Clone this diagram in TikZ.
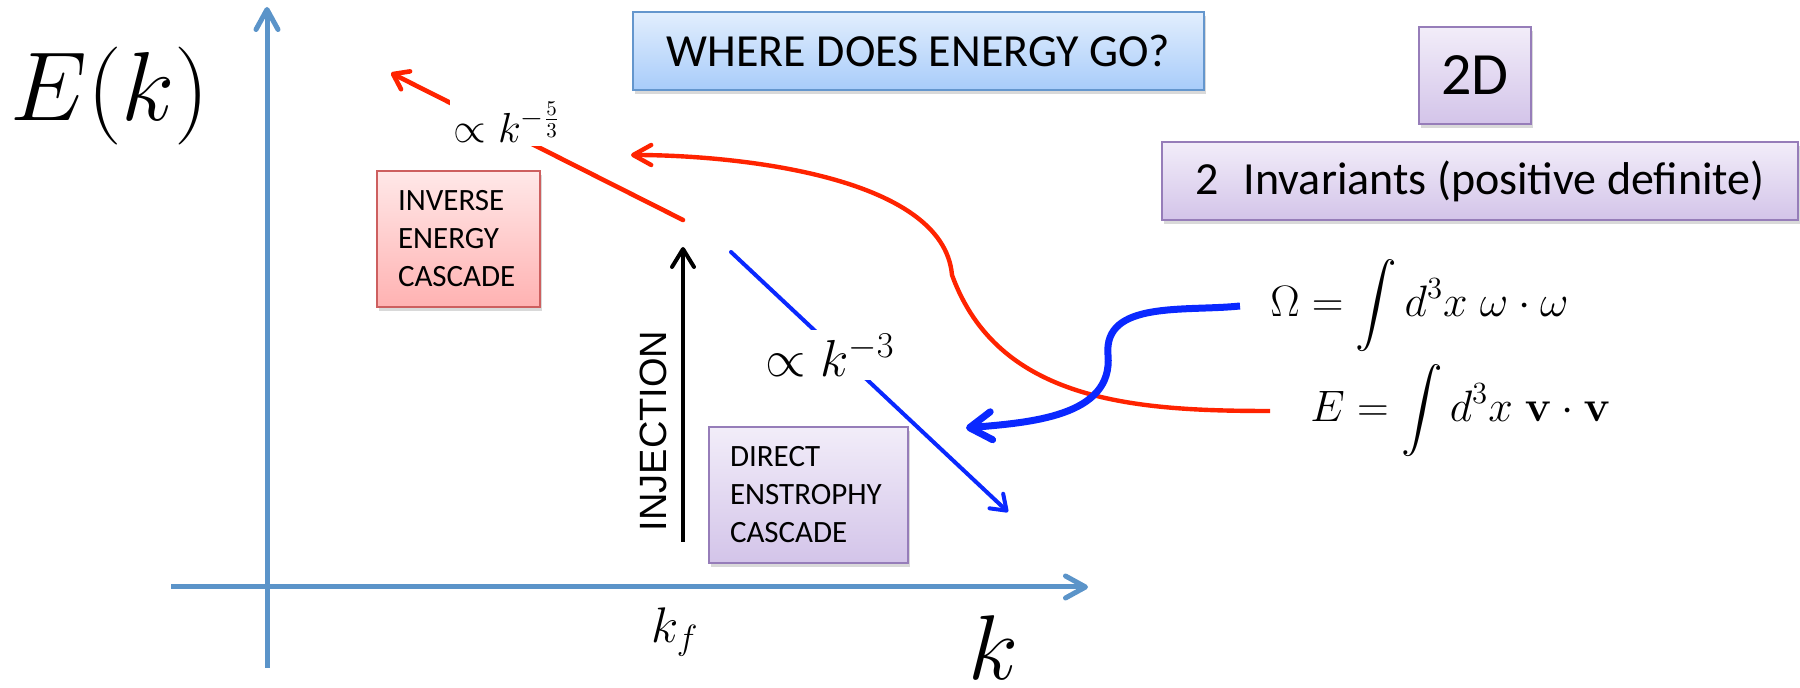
\RequirePackage{fix-cm}
\documentclass[tikz,border=0pt]{standalone}
\usepackage{amsmath}
\usepackage[no-math]{fontspec}
\setmainfont{Carlito}
\newfontfamily\injfont{Liberation Sans}
\definecolor{axisblue}{RGB}{91,148,201}
\definecolor{flowred}{RGB}{255,35,0}
\definecolor{flowblue}{RGB}{10,40,255}
\definecolor{titletop}{RGB}{226,238,253}
\definecolor{titlebot}{RGB}{168,204,250}
\definecolor{titleline}{RGB}{100,150,205}
\definecolor{lilactop}{RGB}{242,237,249}
\definecolor{lilacbot}{RGB}{211,196,233}
\definecolor{lilacline}{RGB}{150,125,185}
\definecolor{pinktop}{RGB}{255,232,232}
\definecolor{pinkbot}{RGB}{255,178,178}
\definecolor{pinkline}{RGB}{205,95,95}
\usetikzlibrary{arrows.meta, shadows}

\begin{document}
\begin{tikzpicture}[x=0.5pt, y=0.5pt,
    axis/.style={draw=axisblue, line width=2.5pt, -{Straight Barb[length=10pt, width=11pt, round]}},
    slide/.style={line width=0.9pt, drop shadow={shadow xshift=1pt, shadow yshift=-2pt, opacity=0.3}},
    titlebox/.style={slide, draw=titleline, top color=titletop, bottom color=titlebot},
    lilacbox/.style={slide, draw=lilacline, top color=lilactop, bottom color=lilacbot},
    pinkbox/.style={slide, draw=pinkline, top color=pinktop, bottom color=pinkbot},
    cascade/.style={font=\fontsize{15.5}{19}\selectfont, align=left, inner xsep=10.5pt, minimum height=68pt},
    law/.style={fill=white, inner sep=2pt},
    spectrum/.style={line width=2.3pt, line cap=round},
  ]
  \useasboundingbox (0,0) rectangle (1800,-688);

  % axes
  \coordinate (ybot) at (267,-668);
  \coordinate (ytip) at (267,-7);
  \coordinate (xleft) at (171,-587);
  \coordinate (xtip) at (1088,-587);
  \draw[axis] (ybot) -- (ytip);
  \draw[axis] (xleft) -- (xtip);
  \node (Ek) at (110,-96) {\fontsize{49}{54}\selectfont $E(k)$};
  \node[inner sep=0pt] (klab) at (993,-648) {\fontsize{46}{50}\selectfont $k$};
  \node (kf) at (675,-632) {\fontsize{25}{30}\selectfont $k_f$};

  % boxes
  \node[titlebox, minimum width=285.5pt, minimum height=39pt, font=\fontsize{23}{28}\selectfont] (where) at (918.5,-51) {WHERE DOES ENERGY GO?};
  \node[lilacbox, minimum width=56pt, minimum height=48.5pt, font=\fontsize{30}{36}\selectfont] (dim) at (1475,-75.5) {2D};
  \node[lilacbox, minimum width=318pt, minimum height=39pt, font=\fontsize{23}{28}\selectfont] (invariants) at (1480,-181) {2\hspace{0.55em}Invariants (positive definite)};
  \node[pinkbox, cascade, text width=60.5pt] (inverse) at (458.5,-239) {INVERSE\\ENERGY\\CASCADE};
  \node[lilacbox, cascade, text width=78.5pt] (direct) at (808.5,-495) {DIRECT\\ENSTROPHY\\CASCADE};

  % spectrum slopes
  \coordinate (invtop) at (683,-220);
  \coordinate (invtip) at (391,-73);
  \draw[spectrum, draw=flowred, -{Straight Barb[length=7pt, width=10pt, round]}] (invtop) -- (invtip);
  \node[law, font=\fontsize{21}{25}\selectfont] (slope53) at (507,-122) {$\propto k^{-\frac{5}{3}}$};
  \coordinate (dirtop) at (731,-252);
  \coordinate (dirtip) at (1008,-512);
  \draw[spectrum, line width=2pt, draw=flowblue, -{Straight Barb[length=7pt, width=10pt, round]}] (dirtop) -- (dirtip);
  \node[law, font=\fontsize{26}{30}\selectfont] (slope3) at (830,-355) {$\propto k^{-3}$};

  % injection
  \coordinate (injbot) at (683,-542);
  \coordinate (injtop) at (683,-247);
  \draw[line width=2pt, -{Straight Barb[length=9pt, width=11pt, round]}] (injbot) -- (injtop);
  \node[rotate=90, font=\injfont\fontsize{19}{23}\selectfont] (injection) at (653,-431) {INJECTION};

  % invariants
  \node[anchor=west, inner xsep=15pt, font=\fontsize{22}{26}\selectfont] (omega) at (1240,-306)
    {$\displaystyle \Omega = \int d^3x\; \omega\cdot\omega$};
  \node[anchor=west, inner xsep=20pt, font=\fontsize{22}{26}\selectfont] (energy) at (1270,-411)
    {$\displaystyle E = \int d^3x\; \mathbf{v}\cdot\mathbf{v}$};
  \coordinate (redbend) at (952,-275);
  \coordinate (redtip) at (631,-155);
  \draw[draw=flowred, line width=2.2pt, -{Straight Barb[length=9pt, width=10pt, round]}]
    (energy.west) to[out=180, in=-70] (redbend) to[out=95, in=0, looseness=0.75] (redtip);
  \coordinate (bluebend) at (1108,-355);
  \coordinate (bluetip) at (966,-428);
  \draw[draw=flowblue, line width=3.5pt, -{Straight Barb[length=11pt, width=14pt, round]}]
    (omega.west) to[out=186, in=95] (bluebend) to[out=-85, in=5] (bluetip);
\end{tikzpicture}
\end{document}
